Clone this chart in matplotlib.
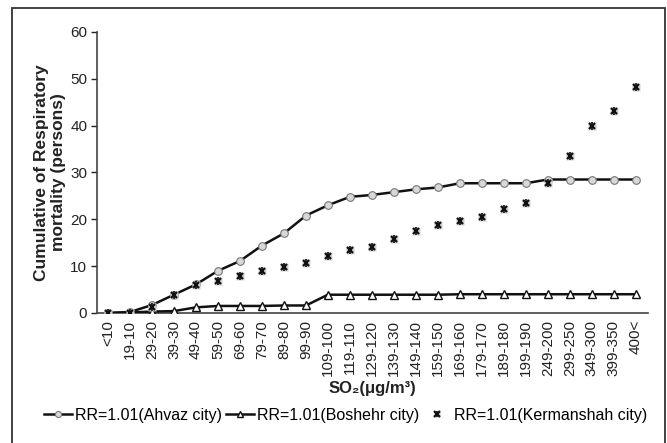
import matplotlib.pyplot as plt
from matplotlib.patches import Rectangle
from matplotlib.legend_handler import HandlerTuple

plt.rcParams['font.family'] = ['Liberation Sans', 'DejaVu Sans']

# SO2 concentration classes (as printed on the x axis)
categories = ['<10', '19-10', '29-20', '39-30', '49-40', '59-50', '69-60', '79-70',
              '89-80', '99-90', '109-100', '119-110', '129-120', '139-130', '149-140',
              '159-150', '169-160', '179-170', '189-180', '199-190', '249-200',
              '299-250', '349-300', '399-350', '400<']

# cumulative respiratory mortality (persons)
ahvaz = [0, 0.2, 1.7, 3.9, 6.1, 9.0, 11.1, 14.4, 17.0, 20.8, 23.0, 24.8, 25.2, 25.8,
         26.4, 26.8, 27.7, 27.7, 27.7, 27.7, 28.5, 28.5, 28.5, 28.5, 28.5]
boshehr = [0, 0.1, 0.3, 0.4, 1.2, 1.5, 1.5, 1.5, 1.6, 1.6, 3.9, 3.9, 3.9, 3.9, 3.9,
           3.9, 4.0, 4.0, 4.0, 4.0, 4.0, 4.0, 4.0, 4.0, 4.0]
kermanshah = [0, 0, 1.3, 3.8, 6.0, 6.9, 8.0, 8.9, 9.8, 10.7, 12.2, 13.5, 14.1, 15.8,
              17.4, 18.8, 19.7, 20.4, 22.1, 23.4, 27.8, 33.5, 40.0, 43.2, 48.2]

x = list(range(len(categories)))

fig = plt.figure(figsize=(6.67, 4.43), dpi=100)
ax = fig.add_axes([0.1454, 0.2935, 0.826, 0.6343])

l1, = ax.plot(x, ahvaz, color='#111111', lw=1.8, marker='o', ms=5.5,
              mfc='#d8d8d8', mec='#777777', mew=0.8, zorder=3)
l2, = ax.plot(x, boshehr, color='#111111', lw=1.8, marker='^', ms=6,
              mfc='white', mec='#111111', mew=1.0, zorder=3)
k0, = ax.plot(x, kermanshah, ls='none', marker='s', ms=5.5, mfc='#d0d0d0', mec='none', zorder=4)
k1, = ax.plot(x, kermanshah, ls='none', marker='x', ms=5, mec='#111111', mew=1.6, zorder=5)
k2, = ax.plot(x, kermanshah, ls='none', marker='|', ms=5.5, mec='#111111', mew=1.2, zorder=5)

ax.set_xlim(-0.5, 24.55)
ax.set_ylim(0, 60)
ax.set_yticks(range(0, 61, 10))
ax.set_xticks(x)
ax.set_xticklabels(categories, rotation=90, va='top', ha='center')
ax.tick_params(axis='x', length=0, pad=5, labelsize=11, colors='#222222')
ax.tick_params(axis='y', length=4, width=1, pad=3, labelsize=11, colors='#222222')
for s in ['top', 'right']:
    ax.spines[s].set_visible(False)
for s in ['left', 'bottom']:
    ax.spines[s].set_color('#444444')
    ax.spines[s].set_linewidth(1.2)

ax.set_ylabel('Cumulative of Respiratory\nmortality (persons)', fontsize=12.5,
              fontweight='bold', color='#222222', labelpad=3)
ax.set_xlabel('SO₂(μg/m³)', fontsize=12, fontweight='bold', color='#222222', labelpad=4)

fig.legend([l1, l2, (k0, k1, k2)],
           ['RR=1.01(Ahvaz city)', 'RR=1.01(Boshehr city)', 'RR=1.01(Kermanshah city)'],
           handler_map={tuple: HandlerTuple(ndivide=1)},
           loc='center', bbox_to_anchor=(0.518, 0.063), ncol=3, frameon=False,
           fontsize=11.5, handlelength=1.8, handletextpad=0.15, columnspacing=0.25,
           markerscale=0.8)

fig.patches.append(Rectangle((0.018, -0.1), 0.979, 1.082, transform=fig.transFigure,
                             fill=False, edgecolor='#333333', lw=1.3))

fig.savefig('out.png', dpi=100)
